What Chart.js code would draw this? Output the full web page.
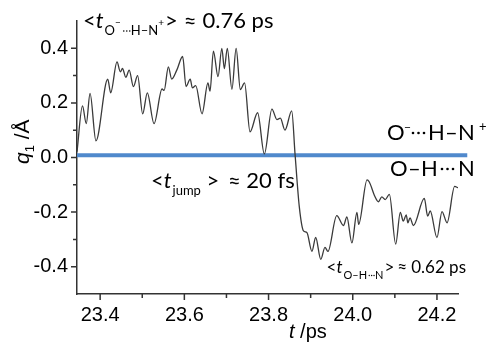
<!DOCTYPE html>
<html><head><meta charset="utf-8">
<script src="https://cdn.jsdelivr.net/npm/chart.js@4.4.1/dist/chart.umd.min.js"></script>
<style>html,body{margin:0;padding:0;background:#fff}#wrap{width:490px;height:342px;position:relative}</style>
</head><body><div id="wrap"><canvas id="c" width="490" height="342"></canvas></div>
<script>
// ---- data ----
const timePs = [23.345,23.358,23.367,23.376,23.390,23.418,23.425,23.440,23.448,23.453,23.461,23.469,23.479,23.489,23.501,23.512,23.528,23.547,23.552,23.562,23.570,23.582,23.596,23.604,23.614,23.619,23.627,23.642,23.656,23.661,23.669,23.680,23.689,23.695,23.702,23.713,23.723,23.733,23.743,23.756,23.774,23.790,23.808,23.820,23.828,23.839,23.855,23.863,23.873,23.883,23.891,23.903,23.912,23.924,23.934,23.941,23.962,23.978,23.986,23.998,24.010,24.014,24.034,24.039,24.053,24.061,24.069,24.077,24.087,24.102,24.113,24.120,24.127,24.131,24.136,24.144,24.170,24.178,24.184,24.200,24.212,24.224,24.242,24.250];
const q1 = [0.021,0.189,0.124,0.235,0.061,0.287,0.237,0.350,0.314,0.326,0.294,0.320,0.260,0.300,0.160,0.237,0.124,0.251,0.246,0.332,0.287,0.320,0.370,0.260,0.287,0.255,0.263,0.160,0.273,0.243,0.390,0.296,0.400,0.326,0.400,0.250,0.400,0.249,0.273,0.094,0.164,0.013,0.177,0.139,0.144,0.100,0.171,0.011,-0.180,-0.269,-0.275,-0.344,-0.293,-0.373,-0.329,-0.344,-0.213,-0.249,-0.218,-0.313,-0.201,-0.245,-0.082,-0.089,-0.144,-0.162,-0.144,-0.154,-0.135,-0.317,-0.201,-0.233,-0.210,-0.239,-0.221,-0.249,-0.150,-0.215,-0.196,-0.293,-0.198,-0.239,-0.106,-0.111];
const boundaryT = [23.345, 24.272];
const boundaryQ = [0.008, 0.008];
const xTicks = [23.4, 23.6, 23.8, 24.0, 24.2];
const xMinorTicks = [23.5, 23.7, 23.9, 24.1];
const yTicks = [-0.4, -0.2, 0.0, 0.2, 0.4];
const yMinorTicks = [-0.3, -0.1, 0.1, 0.3];
const xRange = [23.345, 24.25];
const yRange = [-0.5, 0.5];

const AX = '"Liberation Sans", Arial, sans-serif';
const AN = 'Lato, "Liberation Sans", sans-serif';
const AXC = '#333333';

function setF(ctx, size, style, fam){ ctx.font = (style||'') + ' ' + size + 'px ' + (fam||AN); }
function richWidth(ctx, parts){
  let w = 0;
  for (const p of parts){ setF(ctx, p[1], p[3], p[4]); w += ctx.measureText(p[0]).width + (p[5]||0); }
  return w;
}
function rich(ctx, x, y, parts){
  let cx = x;
  for (const p of parts){
    const [t, size, dy, style, fam, extra] = p;
    setF(ctx, size, style, fam);
    ctx.fillText(t, cx, y + (dy||0));
    cx += ctx.measureText(t).width + (extra||0);
  }
  return cx;
}
function dots(ctx, x, y, n, gap, r){
  for (let i=0;i<n;i++){ ctx.beginPath(); ctx.arc(x + i*gap, y, r, 0, Math.PI*2); ctx.fill(); }
}

const deco = {
  id: 'deco',
  afterDraw(chart){
    const ctx = chart.ctx, xs = chart.scales.x, ys = chart.scales.y, a = chart.chartArea;
    ctx.save();
    ctx.strokeStyle = AXC; ctx.lineWidth = 1.5;
    ctx.beginPath();
    xTicks.forEach(v=>{const p=xs.getPixelForValue(v); ctx.moveTo(p,a.bottom); ctx.lineTo(p,a.bottom+6);});
    xMinorTicks.forEach(v=>{const p=xs.getPixelForValue(v); ctx.moveTo(p,a.bottom); ctx.lineTo(p,a.bottom+4);});
    yTicks.forEach(v=>{const p=ys.getPixelForValue(v); ctx.moveTo(a.left,p); ctx.lineTo(a.left-6,p);});
    yMinorTicks.forEach(v=>{const p=ys.getPixelForValue(v); ctx.moveTo(a.left,p); ctx.lineTo(a.left-4,p);});
    ctx.stroke();

    ctx.fillStyle = '#000';
    ctx.textBaseline = 'alphabetic';
    ctx.textAlign = 'left';
    // axis titles
    rich(ctx, 289, 338, [['t',20,0,'italic',AX],[' /ps',20,0,'',AX]]);
    ctx.save();
    ctx.translate(29, 164);
    ctx.rotate(-Math.PI/2);
    rich(ctx, 0, 0, [['q',21,0,'italic',AX],['1',13,5,'',AX],[' /Å',21,0,'',AX]]);
    ctx.restore();

    // top annotation
    let x = rich(ctx, 83, 28, [['<',22],['t',22,0,'italic',null,1],['O',13,7],['−',10,-2]]);
    dots(ctx, x+3, 31, 3, 3, 0.8);
    rich(ctx, x+10, 28, [['H–N',13,7],['+',10,-2,'',null,1],['>',22,0,'',null,6],['≈',22,0,'',null,6],['0.76 ps',22]]);
    // middle annotation
    rich(ctx, 151, 188, [['<',22],['t',22,0,'italic',null,1],['jump',13,7],[' >',22,0,'',null,3],[' ≈ ',22],['20 fs',22]]);
    // bottom annotation (right-anchored)
    {
      const p1 = [['<',17],['t',17,0,'italic',null,1],['O–H',11,6]];
      const p2 = [['N',11,6,'',null,1],['>',17,0,'',null,3],['≈',17,0,'',null,4],['0.62 ps',17]];
      const total = richWidth(ctx,p1) + 8 + richWidth(ctx,p2);
      const bx = rich(ctx, 466 - total, 273, p1);
      dots(ctx, bx+2.2, 275.5, 3, 2.4, 0.7);
      rich(ctx, bx+8, 273, p2);
    }
    // right labels
    rich(ctx, 387, 140, [['O',22]]);
    rich(ctx, 404, 140, [['−',12,-9]]);
    dots(ctx, 413, 133, 3, 5.5, 1.3);
    rich(ctx, 428, 140, [['H',22]]);
    rich(ctx, 445, 140, [['–',22]]);
    rich(ctx, 458, 140, [['N',22]]);
    rich(ctx, 479, 140, [['+',13,-9]]);
    rich(ctx, 390, 176, [['O',22]]);
    rich(ctx, 408, 176, [['–',22]]);
    rich(ctx, 421, 176, [['H',22]]);
    dots(ctx, 442, 169, 3, 5.5, 1.3);
    rich(ctx, 458, 176, [['N',22]]);
    ctx.restore();
  }
};

new Chart(document.getElementById('c'), {
  type: 'line',
  data: {
    datasets: [
      { data: timePs.map((t,i)=>({x:t,y:q1[i]})), borderColor:'#3a3a3a', borderWidth:1.3, pointRadius:0, cubicInterpolationMode:'monotone', fill:false },
      { data: boundaryT.map((t,i)=>({x:t,y:boundaryQ[i]})), borderColor:'#5089cc', borderWidth:4, pointRadius:0, fill:false, clip:false, borderCapStyle:'butt' }
    ]
  },
  options: {
    responsive:false, animation:false, devicePixelRatio:1,
    layout:{padding:{left:0,top:13,right:32,bottom:0}},
    plugins:{legend:{display:false}, tooltip:{enabled:false}},
    scales:{
      x:{ type:'linear', min:xRange[0], max:xRange[1],
          afterBuildTicks:s=>{s.ticks = xTicks.map(v=>({value:v}));},
          afterFit:s=>{s.height=48;},
          grid:{display:false, drawTicks:false},
          border:{display:true, color:AXC, width:1.5},
          ticks:{padding:9, color:'#000', font:{family:AX, size:20}, maxRotation:0, autoSkip:false, callback:v=>v.toFixed(1)} },
      y:{ type:'linear', min:yRange[0], max:yRange[1],
          afterBuildTicks:s=>{s.ticks = yTicks.map(v=>({value:v}));},
          afterFit:s=>{s.width=77;},
          grid:{display:false, drawTicks:false},
          border:{display:true, color:AXC, width:1.5},
          ticks:{padding:9, color:'#000', font:{family:AX, size:20}, autoSkip:false, callback:v=>v.toFixed(1)} }
    }
  },
  plugins:[deco]
});
</script>
</body></html>
